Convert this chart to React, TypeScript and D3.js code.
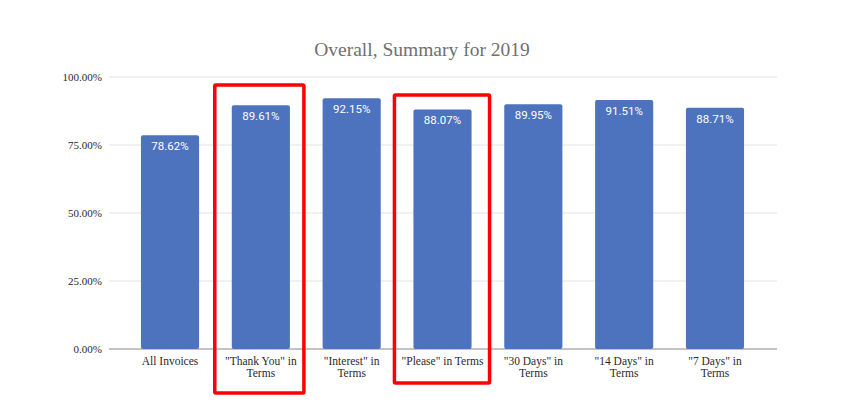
import React from "react";
import * as d3 from "d3";

const categories: string[][] = [
  ["All Invoices"],
  ["\"Thank You\" in", "Terms"],
  ["\"Interest\" in", "Terms"],
  ["\"Please\" in Terms"],
  ["\"30 Days\" in", "Terms"],
  ["\"14 Days\" in", "Terms"],
  ["\"7 Days\" in", "Terms"],
];
const values: number[] = [78.62, 89.61, 92.15, 88.07, 89.95, 91.51, 88.71];
const yTicks: number[] = [0, 25, 50, 75, 100];
const highlighted: number[] = [1, 3];
const title = "Overall, Summary for 2019";

const W = 849;
const H = 407;

export default function App() {
  const keys = categories.map((_, i) => String(i));
  const x = d3.scaleBand<string>().domain(keys).range([124.6, 760.4]).paddingInner(0.36).paddingOuter(0.18);
  const y = d3.scaleLinear().domain([0, 100]).range([349, 77]);
  const bw = x.bandwidth();

  const boxes = [
    { i: 1, dl: -17, dr: 14, top: 85, bottom: 393 },
    { i: 3, dl: -19, dr: 18, top: 95, bottom: 383 },
  ];

  return (
    <svg width={W} height={H} style={{ position: "absolute", left: 0, top: 0, background: "#fff" }}>
      <text x={422} y={56} textAnchor="middle" fontFamily="Liberation Serif, serif" fontSize={19.5} fill="#707070">
        {title}
      </text>
      {yTicks.map((t) => (
        <g key={t}>
          <line x1={109} x2={777} y1={y(t)} y2={y(t)} stroke={t === 0 ? "#888" : "#e3e3e3"} strokeWidth={1.2} />
          <text x={102} y={y(t)} dy="0.35em" textAnchor="end" fontFamily="Liberation Serif, serif" fontSize={11} fill="#2a2a2a">
            {d3.format(".2f")(t) + "%"}
          </text>
        </g>
      ))}
      {values.map((v, i) => (
        <g key={i}>
          <rect x={x(String(i))!} y={y(v)} width={bw} height={y(0) - y(v)} fill="#4e73be" rx={2} />
          <text x={x(String(i))! + bw / 2} y={y(v) + 15} textAnchor="middle" fontFamily="Roboto, sans-serif" fontSize={11.5} fill="#fff">
            {d3.format(".2f")(v) + "%"}
          </text>
        </g>
      ))}
      {categories.map((lines, i) => (
        <text key={i} textAnchor="middle" fontFamily="Liberation Serif, serif" fontSize={11.5} fill="#2a2a2a">
          {lines.map((l, j) => (
            <tspan key={j} x={x(String(i))! + bw / 2} y={365 + j * 12}>
              {l}
            </tspan>
          ))}
        </text>
      ))}
      {boxes
        .filter((b) => highlighted.includes(b.i))
        .map((b) => {
          const x0 = x(String(b.i))! + b.dl;
          const x1 = x(String(b.i))! + bw + b.dr;
          return (
            <rect key={b.i} x={x0} y={b.top} width={x1 - x0} height={b.bottom - b.top} fill="none" stroke="#ff0000" strokeWidth={3.5} rx={1} />
          );
        })}
    </svg>
  );
}
